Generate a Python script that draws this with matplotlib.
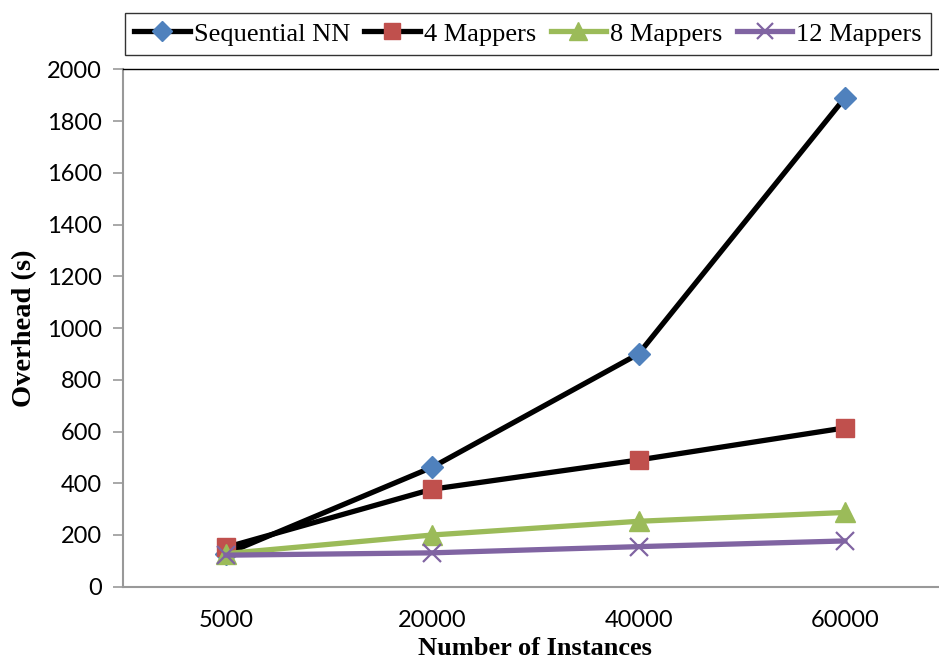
import numpy as np
import matplotlib
matplotlib.use("Agg")
import matplotlib.pyplot as plt

# data
instances = ["5000", "20000", "40000", "60000"]
sequential = [127, 462, 900, 1890]
mappers4 = [152, 377, 490, 614]
mappers8 = [128, 200, 253, 287]
mappers12 = [122, 131, 155, 177]

fig = plt.figure(figsize=(9.39, 6.62), dpi=100)
ax = fig.add_axes([0.1308, 0.1137, 0.8788, 0.7816])

x = np.arange(len(instances))
lw = 3.8
ax.plot(x, sequential, color="black", lw=lw, marker="D", ms=11,
        mfc="#4F81BD", mec="#4F81BD", label="Sequential NN", zorder=3)
ax.plot(x, mappers4, color="black", lw=lw, marker="s", ms=13,
        mfc="#C0504D", mec="#C0504D", label="4 Mappers", zorder=3)
ax.plot(x, mappers8, color="#9BBB59", lw=lw, marker="^", ms=14,
        mfc="#9BBB59", mec="#9BBB59", label="8 Mappers", zorder=3)
ax.plot(x, mappers12, color="#8064A2", lw=lw, marker="x", ms=13, mew=1.6,
        mfc="#8064A2", mec="#8064A2", label="12 Mappers", zorder=3)

ax.set_xlim(-0.5, 3.5)
ax.set_ylim(0, 2000)
ax.set_yticks(np.arange(0, 2001, 200))
ax.set_xticks(x)
ax.set_xticklabels(instances)

for lab in ax.get_xticklabels() + ax.get_yticklabels():
    lab.set_fontfamily("Lato")
    lab.set_fontsize(17)

ax.tick_params(axis="y", direction="out", length=7, width=1.2, color="#999999", pad=8)
ax.tick_params(axis="x", length=0, pad=17)

ax.spines["left"].set_color("#999999")
ax.spines["left"].set_linewidth(1.5)
ax.spines["bottom"].set_color("#999999")
ax.spines["bottom"].set_linewidth(1.5)
ax.spines["right"].set_visible(False)
ax.spines["top"].set_color("black")
ax.spines["top"].set_linewidth(1.0)

ax.set_xlabel("Number of Instances", fontfamily="Liberation Serif", fontweight="bold",
              fontsize=19, labelpad=4)
ax.set_ylabel("Overhead (s)", fontfamily="Liberation Serif", fontweight="bold",
              fontsize=20.5, labelpad=7)

leg = ax.legend(loc="center", ncol=4, frameon=True, fancybox=False, edgecolor="black",
                prop={"family": "Liberation Serif", "size": 19},
                handlelength=2.1, handletextpad=0.15, columnspacing=0.55,
                borderpad=0.35, markerscale=0.9)
leg.set_bbox_to_anchor((528 / 939, 1 - 34 / 662), transform=fig.transFigure)
leg.get_frame().set_linewidth(1.0)

fig.savefig("out.png", dpi=100)
